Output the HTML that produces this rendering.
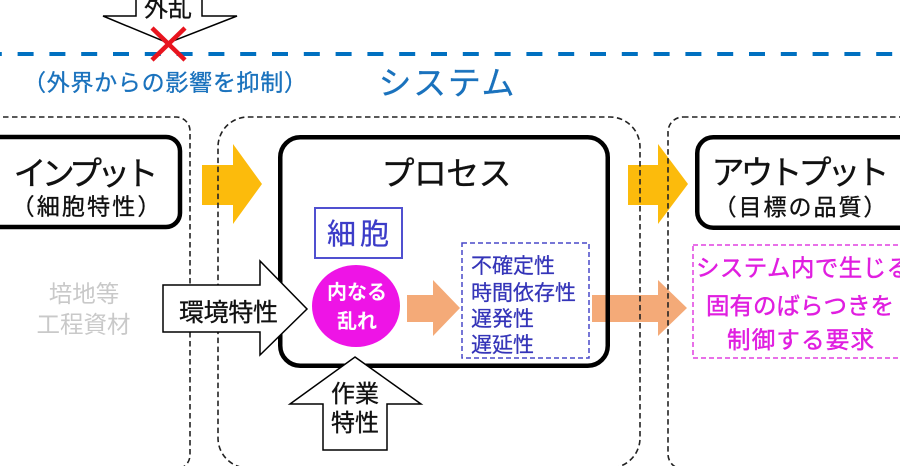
<!DOCTYPE html>
<html>
<head>
<meta charset="utf-8">
<style>
  html,body{margin:0;padding:0;background:#fff;}
  svg{display:block;}
  text{font-family:"Liberation Sans","Noto Sans CJK JP",sans-serif;}
</style>
</head>
<body>
<svg width="900" height="466" viewBox="0 0 900 466" xmlns="http://www.w3.org/2000/svg">
  <rect width="900" height="466" fill="#fff"/>

  <!-- yellow arrows -->
  <polygon points="202,165 233,165 233,144 262,184 233,224 233,205 202,205" fill="#fcbb0c"/>
  <polygon points="628,165 658,165 658,144 688,184 658,224 658,205 628,205" fill="#fcbb0c"/>

  <!-- salmon arrows -->
  <polygon points="407,295 433,295 433,280 460,308 433,336 433,322 407,322" fill="#f4aa78"/>
  <polygon points="592,295 658,295 658,280 687,308 658,336 658,322 592,322" fill="#f4aa78"/>

  <!-- dashed group boxes -->
  <g fill="none" stroke="#222" stroke-width="1.6" stroke-dasharray="5.5 3.5">
    <rect x="-20" y="117" width="210" height="352" rx="14"/>
    <rect x="218" y="117" width="422" height="351" rx="30"/>
    <rect x="668" y="117" width="260" height="352" rx="15"/>
  </g>

  <!-- black solid boxes -->
  <g fill="none" stroke="#000" stroke-width="4.5">
    <rect x="-20" y="137" width="200" height="90" rx="14"/>
    <rect x="280.25" y="137.25" width="327.5" height="228.5" rx="20"/>
    <rect x="697.25" y="137.25" width="250" height="90.5" rx="16"/>
  </g>

  <!-- system boundary line -->
  <line x1="0" y1="54" x2="900" y2="54" stroke="#0070c0" stroke-width="4" stroke-dasharray="16 15.8" stroke-dashoffset="14.2"/>

  <!-- blue labels -->
  <text x="165" y="90.5" font-size="23" fill="#1a72bd" stroke="#1a72bd" stroke-width="0.3" text-anchor="middle" textLength="284">（外界からの影響を抑制）</text>
  <text x="446.5" y="94.5" font-size="33" fill="#1a72bd" stroke="#1a72bd" stroke-width="0.3" text-anchor="middle" textLength="136">システム</text>

  <!-- headings -->
  <g fill="#111" stroke="#111" stroke-width="0.35">
    <text x="86" y="185" font-size="33" text-anchor="middle" textLength="145">インプット</text>
    <text x="86" y="214.5" font-size="23" text-anchor="middle" textLength="149">（細胞特性）</text>
    <text x="446.5" y="185" font-size="33" text-anchor="middle" textLength="130">プロセス</text>
    <text x="800.5" y="184" font-size="33" text-anchor="middle" textLength="178">アウトプット</text>
    <text x="800" y="215" font-size="23" text-anchor="middle" textLength="173">（目標の品質）</text>
  </g>

  <!-- gray text -->
  <text x="84" y="302" font-size="23.5" fill="#c9c9c9" text-anchor="middle">培地等</text>
  <text x="83.5" y="332.5" font-size="23.5" fill="#c9c9c9" text-anchor="middle">工程資材</text>

  <!-- cell box -->
  <rect x="315" y="208" width="87" height="50" fill="#fff" stroke="#5050d0" stroke-width="2"/>
  <text x="358" y="244" font-size="29" fill="#3c3cc8" stroke="#3c3cc8" stroke-width="0.3" text-anchor="middle" textLength="62">細胞</text>

  <!-- inner disturbance circle -->
  <ellipse cx="356" cy="306" rx="44" ry="41" fill="#ee14e6"/>
  <text x="357" y="299" font-size="20" font-weight="bold" fill="#fff" text-anchor="middle">内なる</text>
  <text x="357" y="328" font-size="20" font-weight="bold" fill="#fff" text-anchor="middle">乱れ</text>

  <!-- blue dashed list -->
  <rect x="462" y="243" width="127" height="115" fill="#fff" stroke="#4848c8" stroke-width="1.5" stroke-dasharray="5 3"/>
  <g font-size="21" fill="#3434b8" stroke="#3434b8" stroke-width="0.25">
    <text x="471" y="273">不確定性</text>
    <text x="471" y="300">時間依存性</text>
    <text x="471" y="326">遅発性</text>
    <text x="471" y="352">遅延性</text>
  </g>

  <!-- magenta dashed requirement box -->
  <rect x="693" y="245" width="230" height="113" fill="#fff" stroke="#e040e0" stroke-width="1.5" stroke-dasharray="5 3"/>
  <g font-size="23.5" fill="#e01ee0" stroke="#e01ee0" stroke-width="0.45">
    <text x="696" y="276" textLength="214">システム内で生じる</text>
    <text x="800" y="314" text-anchor="middle" textLength="188">固有のばらつきを</text>
    <text x="800.5" y="348" text-anchor="middle" textLength="147">制御する要求</text>
  </g>

  <!-- environment arrow -->
  <polygon points="163,285 260,285 260,261 307,309 260,355 260,332 163,332" fill="#fff" stroke="#000" stroke-width="1.5" stroke-linejoin="miter"/>
  <text x="228.5" y="321" font-size="25" fill="#111" stroke="#111" stroke-width="0.3" text-anchor="middle" textLength="99">環境特性</text>

  <!-- work arrow -->
  <polygon points="355,357 421,404 387,404 387,450 323,450 323,404 290,404" fill="#fff" stroke="#000" stroke-width="1.5"/>
  <g font-size="24" fill="#111" stroke="#111" stroke-width="0.3">
    <text x="355" y="402" text-anchor="middle">作業</text>
    <text x="355" y="431" text-anchor="middle">特性</text>
  </g>

  <!-- external disturbance arrow -->
  <polygon points="136,-5 136,16 103,16 168,43 237,16 202,16 202,-5" fill="#fff" stroke="#000" stroke-width="1.5"/>
  <text x="168" y="16.5" font-size="24" fill="#111" stroke="#111" stroke-width="0.3" text-anchor="middle">外乱</text>

  <!-- red X -->
  <g stroke="#e8141e" stroke-width="4.5">
    <line x1="152" y1="28" x2="185" y2="60"/>
    <line x1="185" y1="28" x2="152" y2="60"/>
  </g>
</svg>
</body>
</html>
